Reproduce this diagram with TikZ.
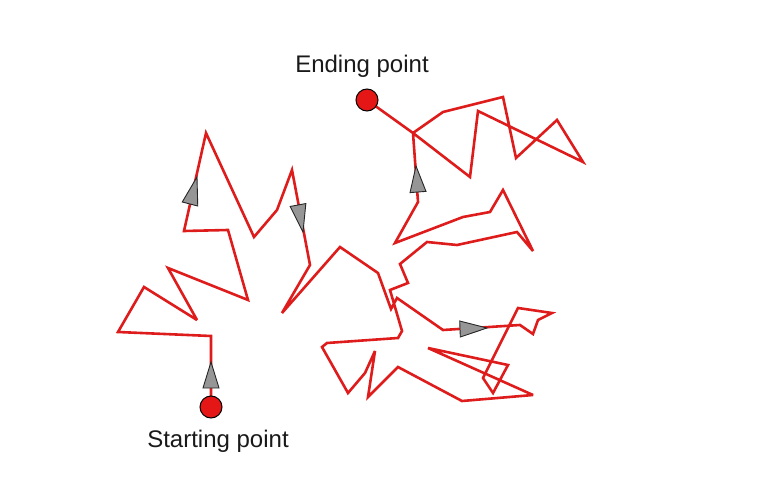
\documentclass[tikz,border=0pt]{standalone}
\usepackage{fontspec}
\setmainfont{Liberation Sans}
\usetikzlibrary{calc}
\definecolor{walkred}{RGB}{222,28,28}
\definecolor{dotred}{RGB}{228,22,22}
\definecolor{tipgray}{RGB}{150,150,150}
\tikzset{
  walk/.style={draw=walkred,line width=2.6pt,line join=miter,miter limit=4},
  dot/.style={circle,fill=dotred,draw=black,line width=1pt,minimum size=22pt,inner sep=0pt},
  tiparrow/.style={fill=tipgray,draw=black!85,line width=0.9pt,line join=miter},
  lab/.style={font=\fontsize{24}{28}\selectfont,text=black!90,anchor=base,inner sep=0pt}
}
\newcommand\grayarrow[4]{%
  \coordinate (#1b) at (#2);
  \coordinate (#1t) at (#3);
  \draw[tiparrow] ($(#1b)!#4!90:(#1t)$) -- (#1t) -- ($(#1b)!#4!-90:(#1t)$) -- cycle;
}
\begin{document}
\begin{tikzpicture}[x=1pt,y=-1pt]
\useasboundingbox (0,0) rectangle (768,497);
\coordinate (s) at (211,407);
\coordinate (e) at (367,100);
\draw[walk] (s) -- (211,336) -- (118,332) -- (144,287) -- (197,320) -- (168,268)
 -- (248,300) -- (228,230) -- (184,231) -- (206,133) -- (254,237) -- (277,210)
 -- (292,170) -- (310,265) -- (282,313) -- (340,247) -- (378,273) -- (391,309)
 -- (397,298) -- (443,330) -- (520,325) -- (533,334) -- (538,320) -- (552,313)
 -- (518,308) -- (483,378) -- (493,393) -- (508,365) -- (428,348) -- (533,395)
 -- (462,401) -- (398,367) -- (368,397) -- (375,351) -- (365,373) -- (348,393)
 -- (322,347) -- (327,343) -- (398,338) -- (402,331) -- (390,290) -- (408,283)
 -- (400,264) -- (427,242) -- (457,245) -- (517,232) -- (533,251) -- (503,190)
 -- (490,212) -- (463,217) -- (395,243) -- (418,202) -- (413,133) -- (443,112)
 -- (503,97) -- (516,158) -- (557,120) -- (583,162) -- (478,111) -- (470,177)
 -- (413,133) -- (e);
\grayarrow{a}{211,388}{211,362}{8pt}
\grayarrow{b}{190,204}{197,177}{8pt}
\grayarrow{c}{298,205}{303,232}{8pt}
\grayarrow{d}{418,192}{416,166}{8pt}
\grayarrow{f}{460,329}{487,328}{8pt}
\node[dot] (start) at (s) {};
\node[dot] (end) at (e) {};
\node[lab] (startlab) at (218,447) {Starting point};
\node[lab] (endlab) at (362,73) {Ending point};
\end{tikzpicture}
\end{document}
